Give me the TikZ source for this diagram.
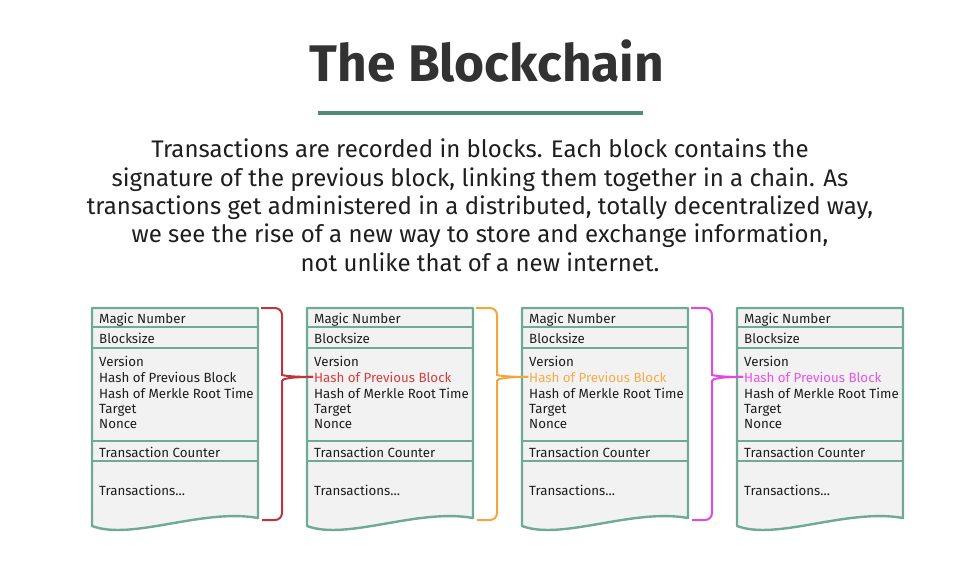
\documentclass[tikz,border=0pt]{standalone}
\usepackage{fontspec}
\setmainfont{Fira Sans}
\usetikzlibrary{calc}

\definecolor{ink}{RGB}{30,30,30}
\definecolor{titlegray}{RGB}{50,50,50}
\definecolor{rulegreen}{RGB}{78,140,118}
\definecolor{blockgreen}{RGB}{110,170,148}
\definecolor{blockfill}{RGB}{241,242,241}
\definecolor{linkred}{RGB}{192,52,62}
\definecolor{linkorange}{RGB}{242,166,62}
\definecolor{linkpink}{RGB}{226,72,226}
\definecolor{textred}{RGB}{214,62,62}
\definecolor{textorange}{RGB}{246,172,72}
\definecolor{textpink}{RGB}{232,84,232}

\tikzset{
    blockbody/.style={draw=blockgreen, fill=blockfill, line width=2.4pt, line join=round},
    blockrule/.style={draw=blockgreen, line width=2.4pt},
    field/.style={anchor=base west, inner sep=1pt, font=\fontsize{13.3}{16}\selectfont, text=ink},
    link/.style={line width=2pt, rounded corners=7pt}
}

\begin{document}
\begin{tikzpicture}[x=1pt, y=-1pt]

    % --- Frame ---
    \useasboundingbox (0,0) rectangle (960,570);

    % --- Heading ---
    \node[anchor=base, inner sep=0, text=titlegray, font=\fontsize{51.5}{58}\selectfont\bfseries]
        (title) at (487,81) {The Blockchain};
    \draw[rulegreen, line width=4pt] (318,113) -- (643,113);

    % --- Intro text ---
    \node[anchor=north, inner sep=0, align=center, text=ink,
          font=\fontsize{24}{28.3}\selectfont] (intro) at (480,139)
        {Transactions are recorded in blocks. Each block contains the\\
         signature of the previous block, linking them together in a chain. As\\
         transactions get administered in a distributed, totally decentralized way,\\
         we see the rise of a new way to store and exchange information,\\
         not unlike that of a new internet.};

    % --- Blocks ---
    % one block every 215 units, the hash line coloured like the incoming link
    \foreach \i/\x/\hc in {1/92/ink, 2/307/textred, 3/522/textorange, 4/737/textpink} {
        \coordinate (ne\i) at (\x+166,308);
        \coordinate (se\i) at (\x+166,518);

        % outline with the torn bottom edge
        \draw[blockbody] (\x,308) -- (ne\i) -- (se\i)
            .. controls (\x+110,508) and (\x+40,541) .. (\x,526) -- cycle;

        % row separators
        \foreach \y in {327,348,441,461}
            \draw[blockrule] (\x,\y) -- (\x+166,\y);

        % field labels
        \node[field] (magic\i)  at (\x+6,323) {Magic Number};
        \node[field] (size\i)   at (\x+6,343) {Blocksize};
        \node[field] (ver\i)    at (\x+6,366) {Version};
        \node[field, text=\hc] (hash\i) at (\x+6,382) {Hash of Previous Block};
        \node[field] (merkle\i) at (\x+6,398) {Hash of Merkle Root Time};
        \node[field] (target\i) at (\x+6,413) {Target};
        \node[field] (nonce\i)  at (\x+6,428) {Nonce};
        \node[field] (count\i)  at (\x+6,457) {Transaction Counter};
        \node[field] (trans\i)  at (\x+6,495) {Transactions...};
    }

    % --- Links ---
    % brace from each block to the hash line of the next one
    \foreach \i/\j/\c in {1/2/linkred, 2/3/linkorange, 3/4/linkpink} {
        \draw[link, draw=\c] ($(ne\i)+(3,0)$) -| ($(ne\i)+(24,60)$)
            .. controls ($(ne\i)+(24,67)$) and ($(ne\i)+(30,69)$) .. (hash\j.west);
        \draw[link, draw=\c] (hash\j.west)
            .. controls ($(ne\i)+(30,69)$) and ($(ne\i)+(24,71)$) .. ($(ne\i)+(24,80)$)
            |- ($(ne\i)+(4,212)$);
    }

\end{tikzpicture}
\end{document}
